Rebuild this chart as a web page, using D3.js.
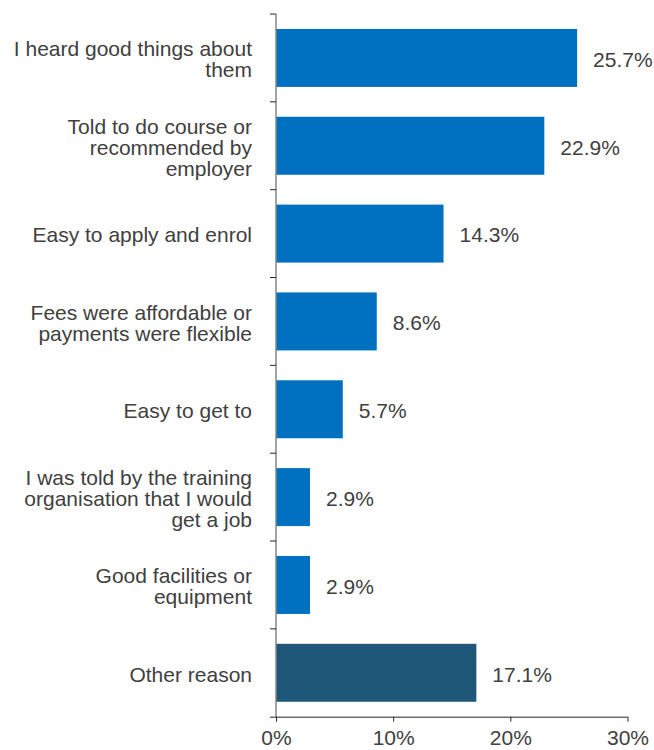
<!DOCTYPE html>
<html>
<head>
<meta charset="utf-8">
<script src="https://cdn.jsdelivr.net/npm/d3@7"></script>
<style>
  body { margin: 0; background: #fff; }
  text { font-family: "Liberation Sans", Arial, sans-serif; }
</style>
</head>
<body>
<div id="chart"></div>
<script>
// categories (line breaks as in the original)
var categories = [
    ["I heard good things about", "them"],
    ["Told to do course or", "recommended by", "employer"],
    ["Easy to apply and enrol"],
    ["Fees were affordable or", "payments were flexible"],
    ["Easy to get to"],
    ["I was told by the training", "organisation that I would", "get a job"],
    ["Good facilities or", "equipment"],
    ["Other reason"]
];
var values = [25.7, 22.9, 14.3, 8.6, 5.7, 2.9, 2.9, 17.1];
var xTicks = [0, 10, 20, 30];

var width = 654, height = 750;
var plotLeft = 276, plotRight = 627.5, plotTop = 14, plotBottom = 716.7;
var fontSize = 21;

var svg = d3.select('#chart').append('svg')
    .attr('width', width)
    .attr('height', height);

var idx = d3.range(values.length);

var x = d3.scaleLinear().domain([0, 30]).range([plotLeft, plotRight]);
var y = d3.scaleBand().domain(idx).range([plotTop, plotBottom])
    .paddingInner(0.34).paddingOuter(0.17);

// bars
svg.selectAll('rect.bar')
    .data(idx).enter()
    .append('rect')
    .attr('class', 'bar')
    .attr('x', x(0))
    .attr('y', function (i) { return y(i); })
    .attr('height', y.bandwidth())
    .attr('width', function (i) { return x(values[i]) - x(0); })
    .attr('fill', function (i) { return i === values.length - 1 ? '#1F5778' : '#0070C0'; });

// value labels
svg.selectAll('text.val')
    .data(idx).enter()
    .append('text')
    .attr('class', 'val')
    .attr('x', function (i) { return x(values[i]) + 16; })
    .attr('y', function (i) { return y(i) + y.bandwidth() / 2; })
    .attr('dy', '0.42em')
    .attr('font-size', fontSize)
    .attr('fill', '#404040')
    .text(function (i) { return values[i].toFixed(1) + '%'; });

// category labels
var lineH = 21;
var cat = svg.selectAll('text.cat')
    .data(idx).enter()
    .append('text')
    .attr('class', 'cat')
    .attr('text-anchor', 'end')
    .attr('font-size', fontSize)
    .attr('fill', '#404040');

cat.each(function (i) {
    var lines = categories[i];
    var cy = y(i) + y.bandwidth() / 2;
    var y0 = cy - (lines.length - 1) * lineH / 2;
    d3.select(this).selectAll('tspan')
        .data(lines).enter()
        .append('tspan')
        .attr('x', 252)
        .attr('y', function (d, k) { return y0 + k * lineH; })
        .attr('dy', '0.42em')
        .text(function (d) { return d; });
});

// y axis: line plus ticks between categories
var yAxis = svg.append('g');
yAxis.append('line')
    .attr('x1', plotLeft).attr('x2', plotLeft)
    .attr('y1', plotTop).attr('y2', plotBottom)
    .attr('stroke', '#868686').attr('stroke-width', 1.5);
var step = y.step();
yAxis.selectAll('line.tick')
    .data(d3.range(values.length))
    .enter().append('line')
    .attr('class', 'tick')
    .attr('x1', plotLeft - 6).attr('x2', plotLeft)
    .attr('y1', function (k) { return plotTop + k * step; })
    .attr('y2', function (k) { return plotTop + k * step; })
    .attr('stroke', '#262626').attr('stroke-width', 1);

// x axis
var xAxis = svg.append('g')
    .attr('transform', 'translate(0,' + plotBottom + ')')
    .call(d3.axisBottom(x).tickValues(xTicks).tickSizeInner(5).tickSizeOuter(0)
        .tickFormat(function (d) { return d + '%'; }));
xAxis.select('.domain').attr('stroke', '#262626').attr('d', 'M' + (plotLeft - 6) + ',0.5H' + plotRight);
xAxis.selectAll('.tick line').attr('stroke', '#262626');
xAxis.selectAll('.tick text')
    .attr('font-size', fontSize)
    .attr('font-family', '"Liberation Sans", Arial, sans-serif')
    .attr('fill', '#404040')
    .attr('y', 13.3)
    .attr('dy', '0.71em');
</script>
</body>
</html>
